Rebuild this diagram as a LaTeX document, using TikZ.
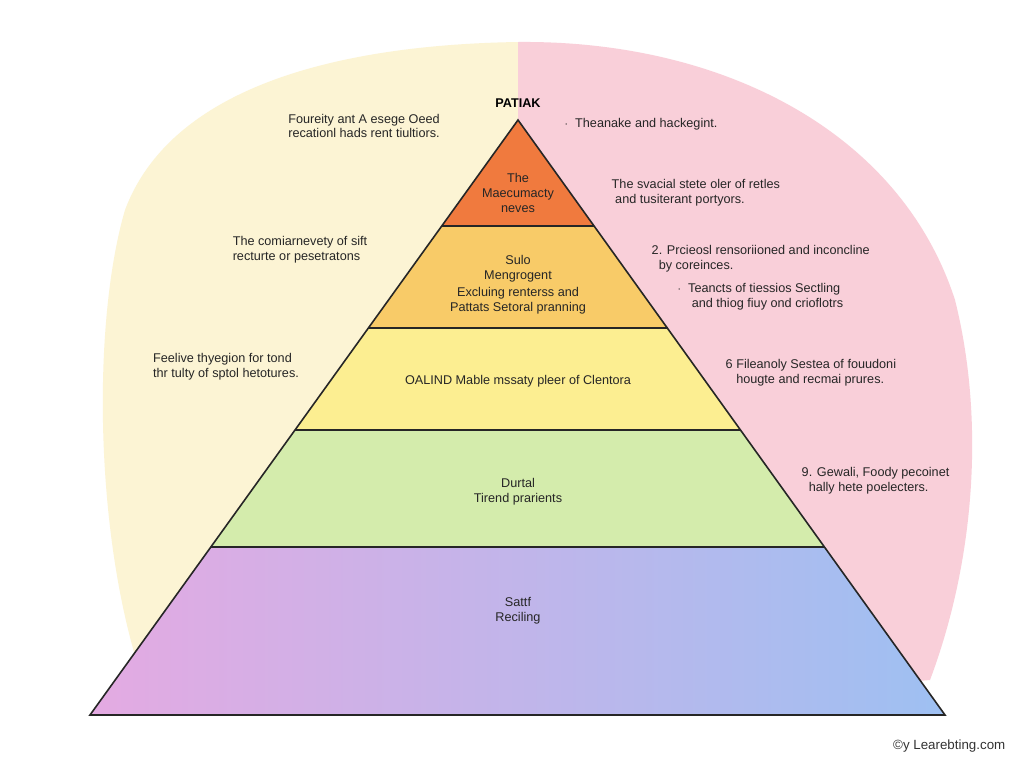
\documentclass[tikz,border=0pt]{standalone}
\usepackage{fontspec}
\setmainfont{Liberation Sans}
\definecolor{bgyellow}{RGB}{252,244,212}
\definecolor{bgpink}{RGB}{249,207,217}
\definecolor{layerA}{RGB}{240,122,62}
\definecolor{layerB}{RGB}{248,203,104}
\definecolor{layerC}{RGB}{252,238,145}
\definecolor{layerD}{RGB}{212,236,172}
\definecolor{layerEl}{RGB}{228,170,226}
\definecolor{layerEr}{RGB}{158,192,242}
\tikzset{
  note/.style={font=\fontsize{9.5}{11}\selectfont, align=left, text=black!85},
  tier/.style={font=\fontsize{9.5}{11}\selectfont, align=center, text=black!85},
  edge/.style={draw=black!85, line width=1.2pt}
}
\begin{document}
\begin{tikzpicture}[x=0.75pt,y=-0.75pt]
\useasboundingbox (0,0) rectangle (1024,768);
\fill[white] (0,0) rectangle (1024,768);

% background halves
\fill[bgyellow] (518,42) -- (518,715) -- (150,700) .. controls (95,560) and (90,330) .. (125,210)
  .. controls (170,90) and (330,45) .. (518,42);
\fill[bgpink] (518,42) .. controls (720,40) and (900,130) .. (955,300)
  .. controls (985,420) and (975,560) .. (930,680) -- (518,715) -- cycle;

% tiers
\fill[layerA] (518,120) -- (594,226) -- (442,226) -- cycle;
\fill[layerB] (442,226) -- (594,226) -- (668,328) -- (368,328) -- cycle;
\fill[layerC] (368,328) -- (668,328) -- (741,430) -- (295,430) -- cycle;
\fill[layerD] (295,430) -- (741,430) -- (825,547) -- (211,547) -- cycle;
\shade[left color=layerEl, right color=layerEr] (211,547) -- (825,547) -- (945,715) -- (90,715) -- cycle;

\draw[edge] (442,226) -- (594,226);
\draw[edge] (368,328) -- (668,328);
\draw[edge] (295,430) -- (741,430);
\draw[edge] (211,547) -- (825,547);
\draw[edge, line join=miter] (518,120) -- (945,715) -- (90,715) -- cycle;

% tier labels
\node[tier] (t1) at (518,193) {The\\Maecumacty\\neves};
\node[tier] (t2) at (518,285) {Sulo\\Mengrogent\\[2pt]Excluing renterss and\\Pattats Setoral pranning};
\node[tier] (t3) at (518,381) {OALIND Mable mssaty pleer of Clentora};
\node[tier] (t4) at (518,492) {Durtal\\Tirend prarients};
\node[tier] (t5) at (518,611) {Sattf\\Reciling};

% title
\node[font=\bfseries\fontsize{9.5}{11}\selectfont] (title) at (518,103) {PATIAK};

% left notes
\node[note] (l1) at (364,126) {Foureity ant A esege Oeed\\recationl hads rent tiultiors.};
\node[note] (l2) at (300,250) {The comiarnevety of sift\\recturte or pesetratons};
\node[note] (l3) at (226,367) {Feelive thyegion for tond\\thr tulty of sptol hetotures.};

% right notes
\node[note,anchor=west] (r1) at (560,124) {$\cdot$\ \ Theanake and hackegint.};
\node[note,anchor=west] (r2) at (607,193) {The svacial stete oler of retles\\ \ and tusiterant portyors.};
\node[note,anchor=west] (r3) at (647,259) {2. Prcieosl rensoriioned and inconcline\\ \ \ by coreinces.};
\node[note,anchor=west] (r4) at (673,297) {$\cdot$\ \ Teancts of tiessios Sectling\\ \ \ \ \ and thiog fiuy ond crioflotrs};
\node[note,anchor=west] (r5) at (721,373) {6 Fileanoly Sestea of fouudoni\\ \ \ \ hougte and recmai prures.};
\node[note,anchor=west] (r6) at (797,481) {9. Gewali, Foody pecoinet\\ \ \ hally hete poelecters.};

% credit
\node[font=\fontsize{10}{12}\selectfont, text=black!80, anchor=east] (credit) at (1010,746) {\textcopyright y Learebting.com};
\end{tikzpicture}
\end{document}
